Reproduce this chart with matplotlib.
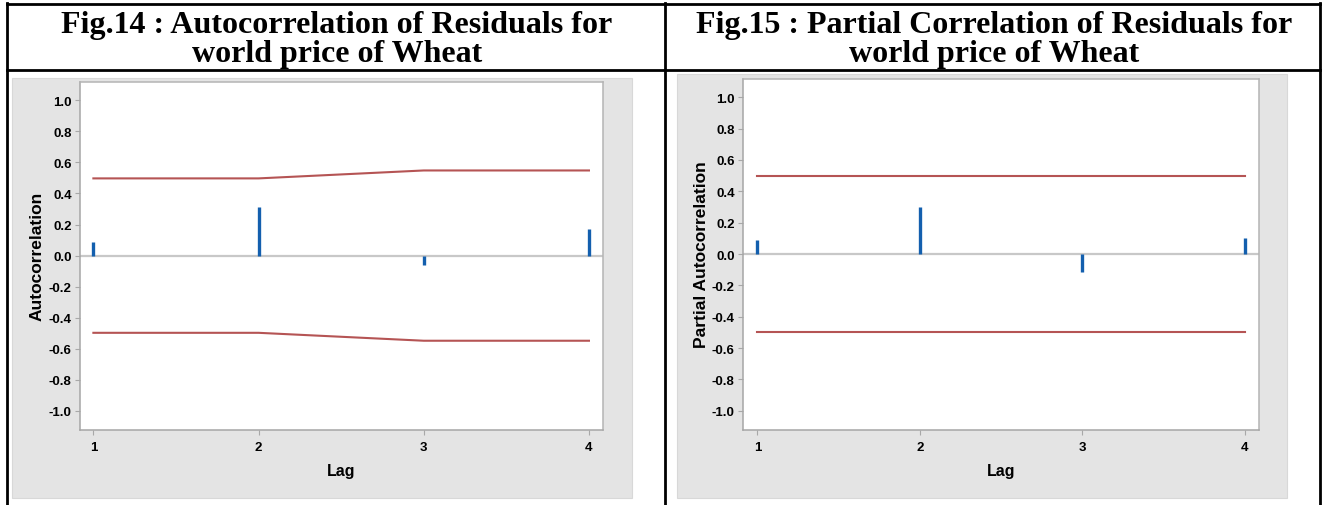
import matplotlib
matplotlib.use("Agg")
import matplotlib.pyplot as plt
from matplotlib.lines import Line2D
from matplotlib.patches import Rectangle

# ---- data -------------------------------------------------------------
lags = [1, 2, 3, 4]

acf_values = [0.09, 0.31, -0.058, 0.17]
acf_upper = [0.497, 0.497, 0.548, 0.548]
acf_lower = [-0.497, -0.497, -0.548, -0.548]

pacf_values = [0.09, 0.30, -0.115, 0.10]
pacf_upper = [0.50, 0.50, 0.50, 0.50]
pacf_lower = [-0.50, -0.50, -0.50, -0.50]

yticks = [1.0, 0.8, 0.6, 0.4, 0.2, 0.0, -0.2, -0.4, -0.6, -0.8, -1.0]
ytick_labels = ["1.0", "0.8", "0.6", "0.4", "0.2", "0.0", "-0.2", "-0.4", "-0.6", "-0.8", "-1.0"]
xtick_labels = ["1", "2", "3", "4"]

title_left = ["Fig.14 : Autocorrelation of Residuals for", "world price of Wheat"]
title_right = ["Fig.15 : Partial Correlation of Residuals for", "world price of Wheat"]

# ---- figure -----------------------------------------------------------
W, H = 1323, 506
fig = plt.figure(figsize=(W / 100, H / 100), dpi=100)
fig.patch.set_facecolor("white")


def fx(px):
    return px / W


def fy(py):
    return 1 - py / H


# grey panel backgrounds
for x0, y0, x1, y1 in [(12, 79, 632, 499), (677, 75, 1287, 499)]:
    fig.add_artist(Rectangle((fx(x0), fy(y1)), fx(x1 - x0), (y1 - y0) / H,
                             transform=fig.transFigure, facecolor="#e4e4e4",
                             edgecolor="#d8d8d8", lw=0.8, zorder=0))

# table rules around the two figures
rule = dict(color="black", lw=2.0, transform=fig.transFigure, zorder=5)
fig.add_artist(Line2D([fx(7), fx(1320)], [fy(5), fy(5)], **rule))
fig.add_artist(Line2D([fx(7), fx(1320)], [fy(71), fy(71)], **rule))
for xv in (7, 665, 1320):
    fig.add_artist(Line2D([fx(xv), fx(xv)], [fy(4), fy(506)], **rule))

# titles
title_font = dict(family="Liberation Serif", weight="bold", size=23,
                  ha="center", va="baseline", color="black")
for cx, lines in [(337, title_left), (994, title_right)]:
    fig.text(fx(cx), fy(32.5), lines[0], **title_font)
    fig.text(fx(cx), fy(62.5), lines[1], **title_font)


def draw_panel(rect, xlim, values, upper, lower, ylabel):
    ax = fig.add_axes(rect)
    ax.set_facecolor("white")
    ax.set_xlim(*xlim)
    ax.set_ylim(-1.12, 1.12)
    ax.axhline(0, color="#c8c8c8", lw=1.6, zorder=1)
    ax.plot(lags, upper, color="#b55454", lw=1.5, zorder=2)
    ax.plot(lags, lower, color="#b55454", lw=1.5, zorder=2)
    ax.vlines(lags, 0, values, color="#135fae", lw=2.4, zorder=3)

    ax.set_yticks(yticks)
    ax.set_yticklabels(ytick_labels)
    ax.set_xticks(lags)
    ax.set_xticklabels(xtick_labels)
    ax.tick_params(axis="both", direction="out", length=3.5, width=0.8,
                   color="#a8a8a8", pad=2.5, labelsize=9.5)
    for lab in ax.get_xticklabels() + ax.get_yticklabels():
        lab.set_fontfamily("Liberation Sans")
        lab.set_fontweight("bold")
    ax.tick_params(axis="x", pad=5)

    for side in ("left", "bottom"):
        ax.spines[side].set_color("#a6a6a6")
        ax.spines[side].set_linewidth(1.1)
    for side in ("top", "right"):
        ax.spines[side].set_color("#b4b4b4")
        ax.spines[side].set_linewidth(1.1)

    ax.set_xlabel("Lag", fontfamily="Liberation Sans", fontweight="bold",
                  fontsize=11.5)
    ax.set_ylabel(ylabel, fontfamily="Liberation Sans", fontweight="bold",
                  fontsize=12.5)
    return ax


axL = draw_panel([fx(80), fy(430.6), fx(523), 348 / H], (0.919, 4.085),
                 acf_values, acf_upper, acf_lower, "Autocorrelation")
axL.yaxis.set_label_coords((45 - 80) / 523, 0.5)
axL.xaxis.set_label_coords(0.5, (430.6 - 464) / 348)

axR = draw_panel([fx(743), fy(430.5), fx(516), 351 / H], (0.911, 4.089),
                 pacf_values, pacf_upper, pacf_lower, "Partial Autocorrelation")
axR.yaxis.set_label_coords((709 - 743) / 516, 0.5)
axR.xaxis.set_label_coords(0.5, (430.5 - 464) / 351)

fig.savefig("out.png", dpi=100)
